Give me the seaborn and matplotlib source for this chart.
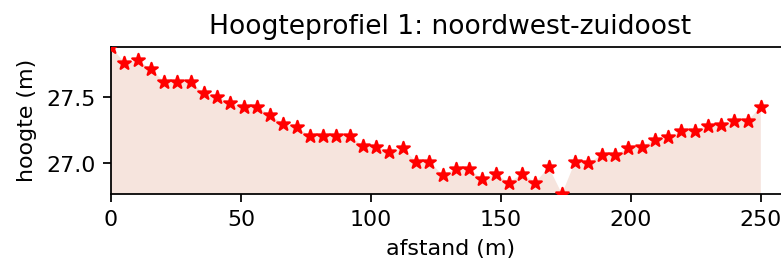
import matplotlib
matplotlib.use("Agg")
import matplotlib.pyplot as plt
import seaborn as sns
import pandas as pd

afstand = [0.0, 5.1, 10.2, 15.3, 20.4, 25.5, 30.6, 35.7, 40.8, 45.9,
           51.0, 56.1, 61.2, 66.3, 71.4, 76.5, 81.6, 86.7, 91.8, 96.9,
           102.0, 107.1, 112.2, 117.3, 122.4, 127.6, 132.7, 137.8, 142.9, 148.0,
           153.1, 158.2, 163.3, 168.4, 173.5, 178.6, 183.7, 188.8, 193.9, 199.0,
           204.1, 209.2, 214.3, 219.4, 224.5, 229.6, 234.7, 239.8, 244.9, 250.0]
hoogte = [27.883, 27.762, 27.783, 27.712, 27.618, 27.614, 27.614, 27.530, 27.505, 27.455,
          27.429, 27.429, 27.366, 27.298, 27.273, 27.207, 27.207, 27.207, 27.207, 27.133,
          27.126, 27.088, 27.114, 27.012, 27.012, 26.911, 26.955, 26.955, 26.879, 26.919,
          26.853, 26.919, 26.853, 26.970, 26.767, 27.012, 27.000, 27.063, 27.063, 27.114,
          27.126, 27.177, 27.197, 27.240, 27.247, 27.283, 27.290, 27.323, 27.316, 27.429]
xticks = [0, 50, 100, 150, 200, 250]
yticks = [27.0, 27.5]

title = "Hoogteprofiel 1: noordwest-zuidoost"
xlabel = "afstand (m)"
ylabel = "hoogte (m)"

df = pd.DataFrame({"afstand": afstand, "hoogte": hoogte})

DPI = 159
fig = plt.figure(figsize=(781.4 / DPI, 262.4 / DPI), dpi=DPI)
ax = fig.add_axes([111 / 781, (262 - 194) / 262, 678 / 781, 147 / 262])

ymin, ymax = min(hoogte), max(hoogte)
ax.fill_between(df["afstand"], df["hoogte"], ymin - 1, color="#f6e4dd", linewidth=0)
sns.scatterplot(data=df, x="afstand", y="hoogte", marker="*", s=36, color="red",
                edgecolor="red", linewidth=1, ax=ax, zorder=3)

ax.set_xlim(0, 261)
ax.set_ylim(ymin, ymax)
ax.set_xticks(xticks)
ax.set_yticks(yticks)
ax.set_title(title, fontsize=12)
ax.set_xlabel(xlabel, fontsize=10)
ax.set_ylabel(ylabel, fontsize=10)

fig.savefig("out.png", dpi=DPI)
